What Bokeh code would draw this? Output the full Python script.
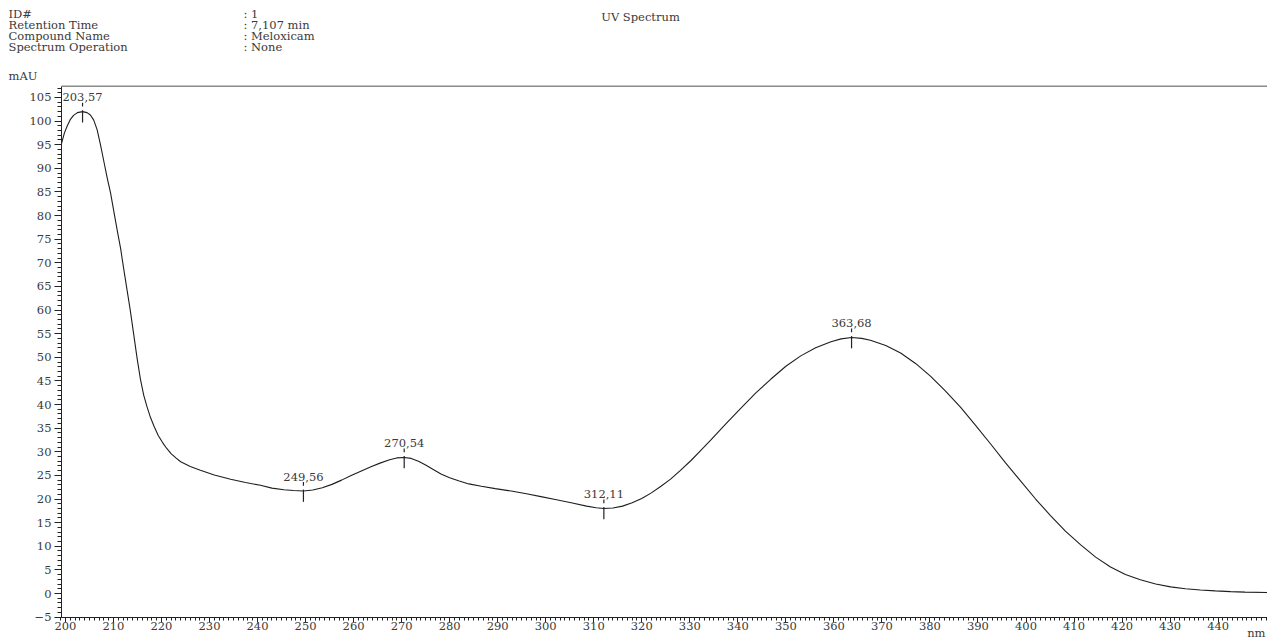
from bokeh.plotting import figure
from bokeh.models import Range1d, SingleIntervalTicker, FixedTicker
from bokeh.core.properties import value
from bokeh.embed import file_html
from bokeh.resources import INLINE

# ---- data ----
wavelength = [199.2, 199.8, 200.4, 201.0, 201.7, 202.5, 203.57, 204.5, 205.2, 205.9,
              206.6, 207.3, 208.0, 208.7, 209.4, 210.1, 210.8, 211.5, 212.1, 212.8,
              213.5, 214.2, 214.9, 215.6, 216.3, 217.0, 217.7, 218.5, 219.3, 220.2,
              221.1, 222.0, 223.0, 224.0, 226.0, 228.1, 231.0, 234.4, 237.5, 240.6,
              243.0, 245.5, 247.5, 249.56, 251.5, 253.5, 255.5, 257.5, 259.5, 261.5,
              263.5, 265.5, 267.5, 269.0, 270.54, 272.0, 273.5, 275.0, 276.5, 278.2,
              280.0, 282.0, 284.0, 286.6, 289.5, 292.8, 296.0, 299.0, 302.0, 305.3,
              308.5, 310.5, 312.11, 314.0, 316.0, 318.0, 320.0, 322.0, 324.0, 326.0,
              328.0, 330.2, 332.3, 334.4, 337.5, 340.6, 343.7, 346.9, 350.0, 353.1,
              356.2, 359.4, 361.5, 363.68, 365.8, 367.6, 370.8, 373.9, 377.0, 380.1,
              383.2, 386.4, 389.5, 392.6, 395.7, 398.9, 402.0, 405.1, 408.2, 411.4,
              414.5, 417.6, 420.7, 423.8, 427.0, 430.1, 433.2, 436.3, 439.4, 442.6,
              445.6, 450.3]
absorbance = [95.3, 97.5, 99.0, 100.3, 101.2, 101.8, 102.0, 101.8, 101.3, 100.2,
              98.2, 95.0, 91.5, 88.0, 84.8, 80.8, 76.8, 73.0, 69.0, 64.5,
              60.0, 55.0, 50.0, 45.5, 42.0, 39.5, 37.3, 35.3, 33.5, 32.0,
              30.7, 29.6, 28.7, 27.9, 26.9, 26.1, 25.1, 24.2, 23.5, 22.9,
              22.3, 21.95, 21.8, 21.7, 21.9, 22.4, 23.1, 24.0, 25.0, 25.9,
              26.8, 27.6, 28.3, 28.7, 28.8, 28.6, 28.0, 27.2, 26.3, 25.3,
              24.5, 23.8, 23.2, 22.7, 22.2, 21.7, 21.1, 20.5, 19.9, 19.2,
              18.5, 18.15, 18.0, 18.1, 18.5, 19.2, 20.1, 21.3, 22.7, 24.2,
              26.0, 28.1, 30.3, 32.5, 35.9, 39.2, 42.4, 45.4, 48.1, 50.3,
              52.0, 53.3, 53.9, 54.2, 54.0, 53.6, 52.5, 50.9, 48.7, 46.0,
              42.9, 39.4, 35.6, 31.7, 27.7, 23.8, 20.0, 16.5, 13.2, 10.3,
              7.7, 5.6, 4.0, 2.9, 2.0, 1.4, 1.0, 0.75, 0.55, 0.4,
              0.3, 0.2]

peak_nm = [203.57, 249.56, 270.54, 312.11, 363.68]
peak_abs = [102.0, 21.7, 28.8, 18.0, 54.2]
peak_labels = ["203,57", "249,56", "270,54", "312,11", "363,68"]

x_tick_values = [200, 210, 220, 230, 240, 250, 260, 270, 280, 290, 300, 310,
                 320, 330, 340, 350, 360, 370, 380, 390, 400, 410, 420, 430, 440]
x_minor_ticks = list(range(199, 451))

header_keys = ["ID#", "Retention Time", "Compound Name", "Spectrum Operation"]
header_vals = [": 1", ": 7,107 min", ": Meloxicam", ": None"]
chart_title = "UV Spectrum"
y_unit = "mAU"
x_unit = "nm"

# ---- layout: the frame covers the whole canvas, axes sit at fixed data locations ----
W, H = 1267, 639
SX, SY = 4.803, 4.724            # pixels per nm, pixels per mAU
X_START = 200 - 64.9 / SX        # nm at left canvas edge
Y_END = 593 / SY                 # mAU at top canvas edge
X_END = X_START + W / SX
Y_START = Y_END - H / SY

def nm_at(px):
    return X_START + px / SX

def v_at(py):
    return Y_END - py / SY

AX_X = nm_at(61)       # y-axis position
AX_Y = -5.03           # x-axis position
TOP = v_at(85.7)       # upper frame line

FONT = "DejaVu Serif"
TXT = "#3a3a3a"
FS = "11.5px"

p = figure(width=W, height=H, output_backend="svg", toolbar_location=None,
           x_range=Range1d(X_START, X_END), y_range=Range1d(Y_START, Y_END),
           min_border=0, min_border_left=0, min_border_right=0,
           min_border_top=0, min_border_bottom=0)
p.outline_line_color = None
p.xgrid.visible = False
p.ygrid.visible = False
p.background_fill_color = "white"
p.border_fill_color = "white"

for ax in (p.xaxis[0], p.yaxis[0]):
    ax.axis_label = None
    ax.axis_line_color = "#222222"
    ax.major_tick_line_color = "#222222"
    ax.minor_tick_line_color = "#222222"
    ax.major_tick_in = 0
    ax.minor_tick_in = 0
    ax.major_label_text_font = FONT
    ax.major_label_text_color = TXT
    ax.major_label_text_font_size = FS

xa = p.xaxis[0]
xa.fixed_location = AX_Y
xa.bounds = (AX_X, X_END)
xa.ticker = FixedTicker(ticks=x_tick_values, minor_ticks=x_minor_ticks)
xa.major_tick_out = 5
xa.minor_tick_out = 3
xa.major_label_standoff = 0

ya = p.yaxis[0]
ya.fixed_location = AX_X
ya.bounds = (AX_Y, TOP)
ya.ticker = SingleIntervalTicker(interval=5, num_minor_ticks=5)
ya.major_tick_out = 7
ya.minor_tick_out = 4
ya.major_label_standoff = 3

# upper frame line
p.segment(x0=[AX_X], y0=[TOP], x1=[X_END], y1=[TOP], line_color="#8a8a8a", line_width=1.6)

# spectrum
p.line(wavelength, absorbance, line_color="#1e1e1e", line_width=1.1)

# peak markers
p.segment(x0=peak_nm, y0=[v + 0.3 for v in peak_abs], x1=peak_nm, y1=[v - 2.3 for v in peak_abs],
          line_color="#222222", line_width=1.2)
p.segment(x0=peak_nm, y0=[v + 1.1 for v in peak_abs], x1=peak_nm, y1=[v + 1.9 for v in peak_abs],
          line_color="#222222", line_width=1.2)
p.text(x=peak_nm, y=[v + 2.2 for v in peak_abs], text=peak_labels,
       text_font=value(FONT), text_font_size=FS, text_color=TXT,
       text_align="center", text_baseline="bottom")

# header block
rows_y = [v_at(13.5), v_at(24.5), v_at(35.5), v_at(46.5)]
p.text(x=[nm_at(8)] * 4, y=rows_y, text=header_keys, text_font=value(FONT),
       text_font_size=FS, text_color=TXT, text_baseline="middle", text_align="left")
p.text(x=[nm_at(243)] * 4, y=rows_y, text=header_vals, text_font=value(FONT),
       text_font_size=FS, text_color=TXT, text_baseline="middle", text_align="left")
p.text(x=[nm_at(640)], y=[v_at(16)], text=[chart_title], text_font=value(FONT),
       text_font_size=FS, text_color=TXT, text_baseline="middle", text_align="center")
p.text(x=[nm_at(8)], y=[v_at(75)], text=[y_unit], text_font=value(FONT),
       text_font_size=FS, text_color=TXT, text_baseline="middle", text_align="left")
p.text(x=[nm_at(1265)], y=[v_at(632)], text=[x_unit], text_font=value(FONT),
       text_font_size=FS, text_color=TXT, text_baseline="middle", text_align="right")

open("out.html", "w").write(file_html(p, INLINE))
